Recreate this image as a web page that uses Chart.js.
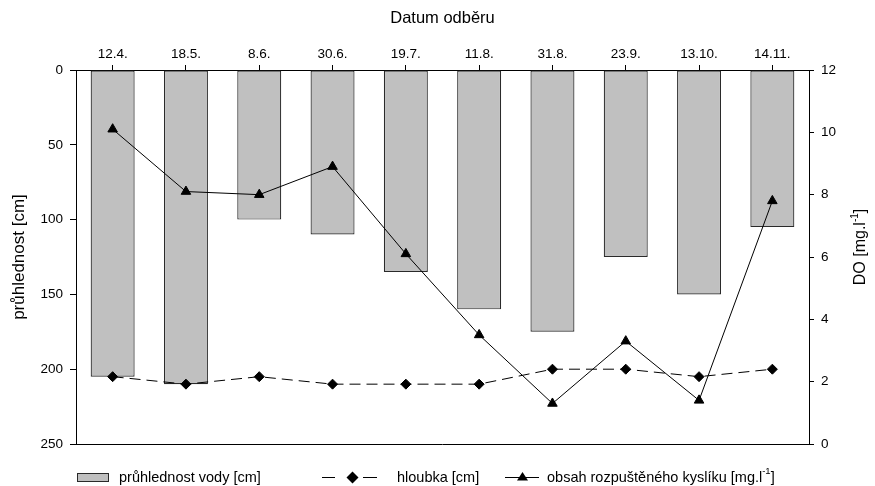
<!DOCTYPE html>
<html>
<head>
<meta charset="utf-8">
<script src="https://cdn.jsdelivr.net/npm/chart.js@4/dist/chart.umd.min.js"></script>
<style>
  html, body { margin: 0; padding: 0; background: #fff; }
  #c { display: block; }
</style>
</head>
<body>
<canvas id="c" width="875" height="486"></canvas>
<script>
// ---- data ----
const categories = ['12.4.', '18.5.', '8.6.', '30.6.', '19.7.', '11.8.', '31.8.', '23.9.', '13.10.', '14.11.'];
const pruhlednost = [205, 210, 100, 110, 135, 160, 175, 125, 150, 105];   // cm, left axis (bars)
const hloubka = [205, 210, 205, 210, 210, 210, 200, 200, 205, 200];       // cm, left axis (dashed)
const kyslik = [10.1, 8.1, 8.0, 8.9, 6.1, 3.5, 1.3, 3.3, 1.4, 7.8];        // mg/l, right axis
const leftTicks = [0, 50, 100, 150, 200, 250];
const rightTicks = [0, 2, 4, 6, 8, 10, 12];

const FONT = '"Liberation Sans", Arial, sans-serif';
const BAR_FILL = '#c0c0c0';
const BAR_EDGE = '#2a2a2a';

const framePlugin = {
  id: 'frame',
  afterDraw(chart) {
    const ctx = chart.ctx;
    const a = chart.chartArea;
    ctx.save();
    // bottom frame line
    ctx.strokeStyle = '#000';
    ctx.lineWidth = 1;
    ctx.beginPath();
    ctx.moveTo(a.left, Math.round(a.bottom) + 0.5);
    ctx.lineTo(a.right, Math.round(a.bottom) + 0.5);
    ctx.stroke();

    // right axis title (reads bottom to top)
    ctx.fillStyle = '#000';
    ctx.translate(861, 247);
    ctx.rotate(-Math.PI / 2);
    const big = '16px ' + FONT, small = '10px ' + FONT;
    const p1 = 'DO [mg.l', p2 = '-1', p3 = ']';
    ctx.font = big; const w1 = ctx.measureText(p1).width, w3 = ctx.measureText(p3).width;
    ctx.font = small; const w2 = ctx.measureText(p2).width;
    let x = -(w1 + w2 + w3) / 2;
    ctx.textBaseline = 'middle';
    ctx.textAlign = 'left';
    ctx.font = big; ctx.fillText(p1, x, 0); x += w1;
    ctx.font = small; ctx.fillText(p2, x, -6); x += w2;
    ctx.font = big; ctx.fillText(p3, x, 0);
    ctx.restore();

    // legend
    ctx.save();
    const cy = 477.5;
    const LF = '14.5px ' + FONT;
    ctx.font = LF;
    ctx.textBaseline = 'middle';
    ctx.textAlign = 'left';
    // item 1: bar box
    ctx.fillStyle = BAR_FILL;
    ctx.fillRect(77.5, 473.5, 31, 8);
    ctx.strokeStyle = BAR_EDGE; ctx.lineWidth = 1;
    ctx.strokeRect(77.5, 473.5, 31, 8);
    ctx.fillStyle = '#000';
    ctx.fillText('průhlednost vody [cm]', 119, cy);
    // item 2: dashed line + diamond
    ctx.strokeStyle = '#000';
    ctx.beginPath();
    ctx.moveTo(322, cy); ctx.lineTo(335, cy);
    ctx.moveTo(363, cy); ctx.lineTo(377, cy);
    ctx.stroke();
    ctx.beginPath();
    ctx.moveTo(352.5, cy - 6); ctx.lineTo(358.5, cy); ctx.lineTo(352.5, cy + 6); ctx.lineTo(346.5, cy); ctx.closePath();
    ctx.fill();
    ctx.fillText('hloubka [cm]', 397, cy);
    // item 3: solid line + triangle
    ctx.beginPath();
    ctx.moveTo(505, cy); ctx.lineTo(539, cy);
    ctx.stroke();
    ctx.beginPath();
    ctx.moveTo(522.5, cy - 5.5); ctx.lineTo(528, cy + 3); ctx.lineTo(517, cy + 3); ctx.closePath();
    ctx.fill();
    let lx = 547;
    const t1 = 'obsah rozpuštěného kyslíku [mg.l';
    ctx.fillText(t1, lx, cy); lx += ctx.measureText(t1).width;
    ctx.font = '9.5px ' + FONT;
    ctx.fillText('-1', lx, cy - 6); lx += ctx.measureText('-1').width;
    ctx.font = LF;
    ctx.fillText(']', lx, cy);
    ctx.restore();
  }
};

new Chart(document.getElementById('c'), {
  type: 'bar',
  data: {
    labels: categories,
    datasets: [
      {
        type: 'line',
        label: 'obsah rozpuštěného kyslíku [mg.l-1]',
        data: kyslik,
        yAxisID: 'y1',
        borderColor: '#000',
        borderWidth: 1,
        pointStyle: 'triangle',
        pointRadius: 5.5,
        pointBackgroundColor: '#000',
        pointBorderColor: '#000',
        pointBorderWidth: 1,
        tension: 0,
        order: 1
      },
      {
        type: 'line',
        label: 'hloubka [cm]',
        data: hloubka,
        yAxisID: 'y',
        borderColor: '#000',
        borderWidth: 1,
        borderDash: [11, 6],
        pointStyle: 'rectRot',
        pointRadius: 5,
        pointBackgroundColor: '#000',
        pointBorderColor: '#000',
        pointBorderWidth: 1,
        tension: 0,
        order: 2
      },
      {
        type: 'bar',
        label: 'průhlednost vody [cm]',
        data: pruhlednost,
        yAxisID: 'y',
        backgroundColor: BAR_FILL,
        borderColor: BAR_EDGE,
        borderWidth: 1.2,
        borderSkipped: false,
        barPercentage: 0.6,
        categoryPercentage: 1,
        order: 3
      }
    ]
  },
  options: {
    responsive: false,
    animation: false,
    events: [],
    layout: { padding: { bottom: 42, top: 0, left: 0, right: 0 } },
    plugins: { legend: { display: false }, tooltip: { enabled: false }, title: { display: false } },
    scales: {
      x: {
        position: 'top',
        offset: true,
        grid: { offset: false, drawOnChartArea: false, drawTicks: true, tickLength: 5, color: '#000' },
        border: { display: true, color: '#000', width: 1 },
        ticks: { color: '#000', padding: 3, maxRotation: 0, autoSkip: false, font: { family: FONT, size: 13.5 } },
        title: { display: true, text: 'Datum odběru', color: '#000', padding: { top: 9, bottom: 0 }, font: { family: FONT, size: 16.5 } },
        afterFit: s => { s.height = 70; }
      },
      y: {
        position: 'left',
        reverse: true,
        min: 0,
        max: 250,
        afterBuildTicks: s => { s.ticks = leftTicks.map(v => ({ value: v })); },
        grid: { drawOnChartArea: false, drawTicks: true, tickLength: 6, color: '#000' },
        border: { display: true, color: '#000', width: 1 },
        ticks: { color: '#000', padding: 7, font: { family: FONT, size: 13.5 } },
        title: { display: true, text: 'průhlednost [cm]', color: '#000', padding: { top: 9, bottom: 0 }, font: { family: FONT, size: 17 } },
        afterFit: s => { s.width = 76; }
      },
      y1: {
        position: 'right',
        min: 0,
        max: 12,
        afterBuildTicks: s => { s.ticks = rightTicks.map(v => ({ value: v })); },
        grid: { drawOnChartArea: false, drawTicks: true, tickLength: 5, color: '#000' },
        border: { display: true, color: '#000', width: 1 },
        ticks: { color: '#000', padding: 7, font: { family: FONT, size: 13.5 } },
        afterFit: s => { s.width = 66; }
      }
    }
  },
  plugins: [framePlugin]
});
</script>
</body>
</html>
